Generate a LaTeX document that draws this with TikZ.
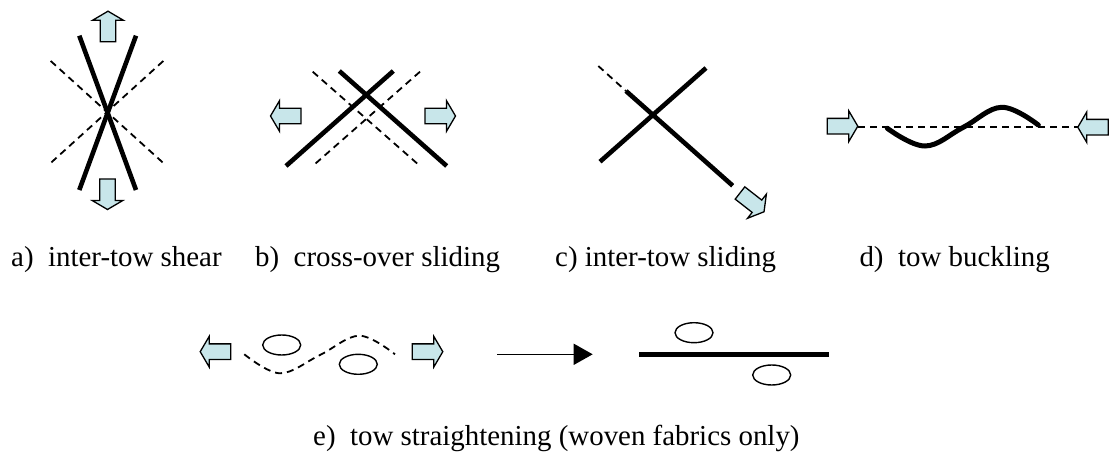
\documentclass[tikz,border=0pt]{standalone}
\usepackage{fontspec}
\setmainfont{Liberation Serif}
\usetikzlibrary{arrows.meta,shapes.geometric}
\definecolor{arrowblue}{RGB}{200,230,234}
\begin{document}
\begin{tikzpicture}[x=1pt,y=-1pt,
  tow/.style={line width=4.6pt},
  ghost/.style={line width=1.8pt,dash pattern=on 7pt off 5pt},
  fibre/.style={ellipse, draw, line width=1.4pt, minimum width=38pt, minimum height=20pt, inner sep=0pt},
  lbl/.style={anchor=base west, inner sep=0pt, font=\fontsize{28.9}{34}\selectfont},
  barrow/.pic={\draw[line width=1.3pt, fill=arrowblue, line join=miter]
     (0,-7.8) -- (21.5,-7.8) -- (21.5,-15.3) -- (30.5,0) -- (21.5,15.3) -- (21.5,7.8) -- (0,7.8) -- cycle;}
]
\useasboundingbox (0,0) rectangle (1109,462);

% ---------- a) inter-tow shear
\coordinate (a1) at (79.3,35.7);  \coordinate (a2) at (136,190);
\coordinate (a3) at (136,35.7);   \coordinate (a4) at (79.3,190);
\coordinate (a5) at (50.7,61);    \coordinate (a6) at (163.3,163);
\coordinate (a7) at (163.3,61);   \coordinate (a8) at (50.7,163);
\draw[ghost] (a5) -- (a6);
\draw[ghost] (a7) -- (a8);
\draw[tow] (a1) -- (a2);
\draw[tow] (a3) -- (a4);
\pic[rotate=90] at (108,41.7) {barrow};
\pic[rotate=-90] at (107.5,179) {barrow};
\node[lbl] (la) at (11,266.5) {a)~~inter-tow shear};

% ---------- b) cross-over sliding
\coordinate (b1) at (286,166);    \coordinate (b2) at (393.3,71);
\coordinate (b3) at (339.3,71);   \coordinate (b4) at (446.7,166);
\coordinate (b5) at (312.7,71.7); \coordinate (b6) at (420,166);
\coordinate (b7) at (420,71.7);   \coordinate (b8) at (312.7,166);
\draw[ghost] (b5) -- (b6);
\draw[ghost] (b7) -- (b8);
\draw[tow] (b1) -- (b2);
\draw[tow] (b3) -- (b4);
\pic[rotate=180] at (301,116) {barrow};
\pic at (425,116) {barrow};
\node[lbl] (lb) at (255,266.5) {b)~~cross-over sliding};

% ---------- c) inter-tow sliding
\coordinate (c1) at (600,161.7);  \coordinate (c2) at (706,68);
\coordinate (c3) at (626,91);     \coordinate (c4) at (732.7,185.7);
\coordinate (c5) at (598.3,66);
\draw[ghost] (c5) -- (c3);
\draw[tow] (c1) -- (c2);
\draw[tow] (c3) -- (c4);
\pic[rotate=-38] at (740,193) {barrow};
\node[lbl] (lc) at (555,266.5) {c) inter-tow sliding};

% ---------- d) tow buckling
\coordinate (d1) at (858.3,127.3); \coordinate (d2) at (1078.3,127.3);
\draw[ghost] (d1) -- (d2);
\draw[line width=5pt, line cap=round] plot[smooth, tension=0.65] coordinates
  {(887.3,128.3) (925,146) (963.3,127.3) (1001.7,107.3) (1038.3,125)};
\pic at (827.3,126.2) {barrow};
\pic[rotate=180] at (1108.3,127.2) {barrow};
\node[lbl] (ld) at (859.3,266.5) {d)~~tow buckling};

% ---------- e) tow straightening
\pic[rotate=180] at (230.7,351.7) {barrow};
\pic at (412.3,351.7) {barrow};
\node[fibre] (f1) at (281.7,345) {};
\node[fibre] (f2) at (358.3,364.3) {};
\draw[ghost] plot[smooth, tension=0.6] coordinates
  {(244.3,354.3) (280,373.3) (320,355) (359.3,335.7) (395,354.3)};
\coordinate (e0) at (497.3,354.3); \coordinate (e1) at (592.7,354.3);
\draw[line width=1.5pt, -{Triangle[length=19pt,width=21pt]}] (e0) -- (e1);
\coordinate (s1) at (639.3,354.3); \coordinate (s2) at (829.3,354.3);
\draw[line width=5.3pt] (s1) -- (s2);
\node[fibre] (f3) at (694,332.7) {};
\node[fibre] (f4) at (771.7,375) {};
\node[lbl] (le) at (313,446) {e)~~tow straightening (woven fabrics only)};
\end{tikzpicture}
\end{document}
